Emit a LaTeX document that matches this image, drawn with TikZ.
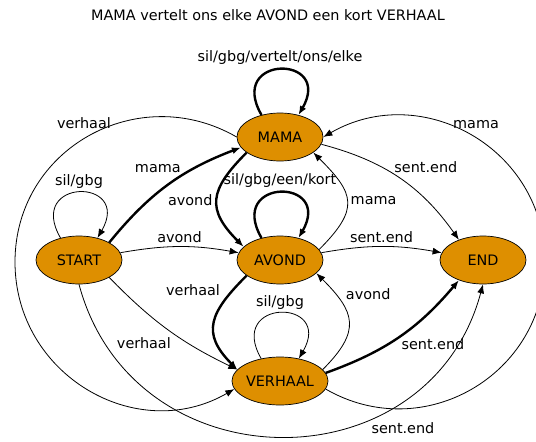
\documentclass[tikz,border=0pt]{standalone}
\usepackage{fontspec}
\setmainfont{DejaVu Sans}
\usepackage{xcolor}
\usepackage{tikz}
\usetikzlibrary{shapes,arrows.meta}

\definecolor{stateorange}{RGB}{222,143,0}
\tikzset{
	state/.style={ellipse,draw,line width=0.7pt,fill=stateorange,
		minimum width=86pt,minimum height=48pt,inner sep=0pt},
	heavy/.style={line width=2.4pt},
}

\begin{document}
\begin{tikzpicture}[x=1pt,y=-1pt,font=\fontsize{14.4pt}{17pt}\selectfont,
		>={Latex[length=9pt,width=7pt]}]
		\useasboundingbox (0,0) rectangle (536,442);
		\node (title) at (268,15) {MAMA vertelt ons elke AVOND een kort VERHAAL};
		%
		\node[state] (MAMA) at (280,137) {MAMA};
		\node[state] (START) at (79,260) {START};
		\node[state] (AVOND) at (280,260) {AVOND};
		\node[state] (END) at (483,260) {END};
		\node[state] (VERHAAL) at (280,381) {VERHAAL};
		\coordinate (farleft) at (15,262);
		\coordinate (farright) at (545,262);
		%
		\path[->,line width=0.8pt]
		(MAMA.130) edge[heavy,out=120,in=60,distance=70pt] node[above]{sil/gbg/vertelt/ons/elke} (MAMA.50)
		(START.130) edge[out=120,in=60,distance=70pt] node[above]{sil/gbg} (START.50)
		(AVOND.130) edge[heavy,out=120,in=60,distance=70pt] node[above]{sil/gbg/een/kort} (AVOND.50)
		(VERHAAL.130) edge[out=120,in=60,distance=70pt] node[above]{sil/gbg} (VERHAAL.50)
		%
		(START.30) edge[heavy,bend left=15] node[above=8pt,xshift=-10pt]{mama} (MAMA.195)
		(START.10) edge[bend left=10] node[above]{avond} (AVOND.170)
		(START.-30) edge[bend right=10] node[pos=0.55,below left]{verhaal} (VERHAAL.165)
		(START.south) edge[out=-75,in=-105,distance=210pt] node[pos=0.67,below right]{sent.end} (END.south)
		%
		(MAMA.-155) edge[heavy,out=-135,in=135,distance=53pt] node[left]{avond} (AVOND.160)
		(AVOND.15) edge[out=45,in=-45,distance=58pt] node[right]{mama} (MAMA.-25)
		(MAMA.-10) edge[bend left=20] node[pos=0.45,above right,inner sep=1pt]{sent.end} (END.140)
		(AVOND.10) edge[bend left=10] node[above]{sent.end} (END.170)
		%
		(AVOND.-155) edge[heavy,out=-135,in=135,distance=52pt] node[pos=0.25,above left]{verhaal} (VERHAAL.165)
		(VERHAAL.15) edge[out=45,in=-45,distance=55pt] node[pos=0.7,above right]{avond} (AVOND.-20)
		(VERHAAL.10) edge[heavy,bend right=15] node[below right,inner sep=1pt]{sent.end} (END.-140);
		%
		% the two long arcs round the outside
		\draw[->,line width=0.8pt] (MAMA.west) to[out=150,in=90,looseness=1.14] node[above=3pt,xshift=-5pt]{verhaal} (farleft)
			to[out=-90,in=210,looseness=1.14] (VERHAAL.190);
		\draw[->,line width=0.8pt] (VERHAAL.-10) to[out=-30,in=-90,looseness=1.14] (farright)
			to[out=90,in=30,looseness=1.14] node[above=3pt,xshift=5pt]{mama} (MAMA.east);
		\end{tikzpicture}
\end{document}
